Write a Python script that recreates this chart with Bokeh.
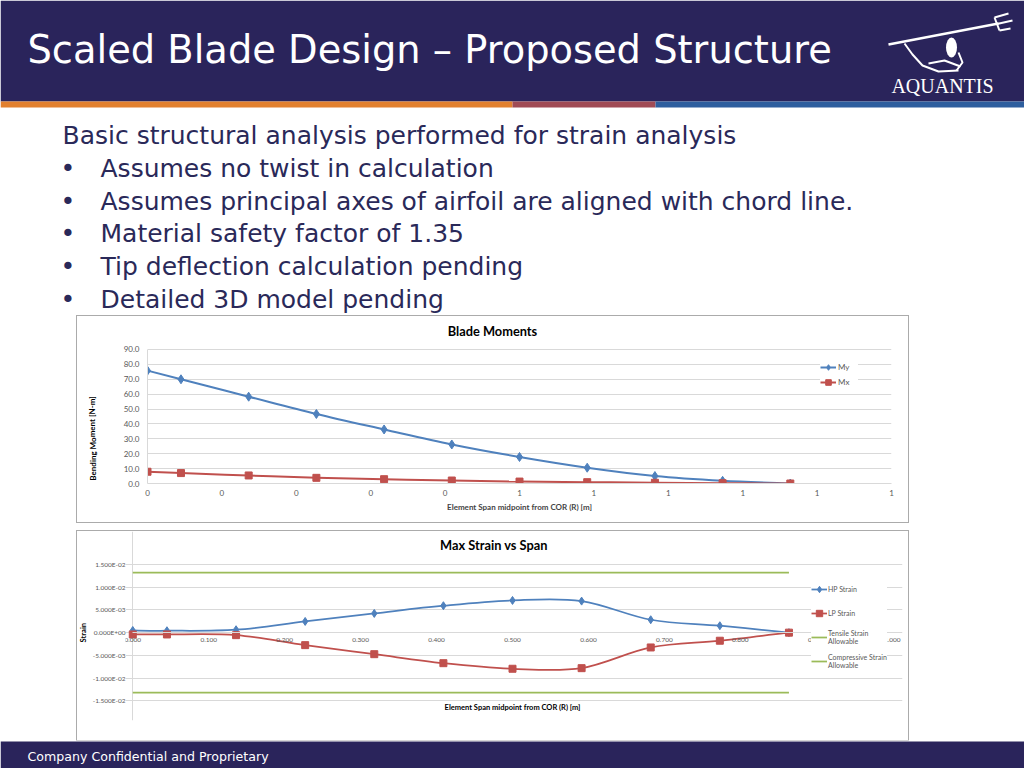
from bokeh.plotting import figure
from bokeh.layouts import column, row
from bokeh.models import Range1d, FixedTicker, Legend, LegendItem, Spacer
from bokeh.embed import file_html
from bokeh.resources import INLINE
from bokeh.core.properties import value

# ---------------- data ----------------
TITLE = "Scaled Blade Design \u2013 Proposed Structure"
INTRO = "Basic structural analysis performed for strain analysis"
BULLETS = [
    "Assumes no twist in calculation",
    "Assumes principal axes of airfoil are aligned with chord line.",
    "Material safety factor of 1.35",
    "Tip deflection calculation pending",
    "Detailed 3D model pending",
]
FOOTER = "Company Confidential and Proprietary"
LOGO = "AQUANTIS"

CHART1_TITLE = "Blade Moments"
CHART2_TITLE = "Max Strain vs Span"
X_TITLE = "Element Span midpoint from COR (R) [m]"
Y1_TITLE = "Bending Moment [N-m]"
Y2_TITLE = "Strain"

SPAN = [0.000, 0.045, 0.136, 0.227, 0.318, 0.409, 0.500, 0.591, 0.682, 0.773, 0.864]
MY = [75.8, 70.0, 58.3, 46.7, 36.3, 26.2, 17.8, 10.6, 5.0, 1.8, 0.0]
MX = [7.9, 7.0, 5.4, 3.8, 2.9, 2.0, 1.3, 0.9, 0.5, 0.2, 0.0]
HP = [4.8e-4, 4.2e-4, 6.4e-4, 2.47e-3, 4.23e-3, 5.93e-3, 7.09e-3, 6.94e-3, 2.84e-3, 1.52e-3, 0.0]
LP = [-4.0e-4, -4.0e-4, -5.5e-4, -2.75e-3, -4.74e-3, -6.72e-3, -7.95e-3, -7.82e-3, -3.26e-3, -1.78e-3, 0.0]
TENSILE = [0.0132, 0.0132, 0.0132, 0.0132, 0.0132, 0.0132, 0.0132, 0.0132, 0.0132, 0.0132, 0.0132]
COMPRESSIVE = [-0.0132, -0.0132, -0.0132, -0.0132, -0.0132, -0.0132, -0.0132, -0.0132, -0.0132, -0.0132, -0.0132]

X1_TICKS = [0.0, 0.1, 0.2, 0.3, 0.4, 0.5, 0.6, 0.7, 0.8, 0.9, 1.0]
X1_LABELS = ["0", "0", "0", "0", "0", "1", "1", "1", "1", "1", "1"]
Y1_TICKS = [0, 10, 20, 30, 40, 50, 60, 70, 80, 90]
Y1_LABELS = ["0.0", "10.0", "20.0", "30.0", "40.0", "50.0", "60.0", "70.0", "80.0", "90.0"]
X2_TICKS = [0.0, 0.1, 0.2, 0.3, 0.4, 0.5, 0.6, 0.7, 0.8, 0.9, 1.0]
X2_LABELS = ["0.000", "0.100", "0.200", "0.300", "0.400", "0.500", "0.600", "0.700", "0.800", "0.900", "1.000"]
Y2_TICKS = [-0.015, -0.01, -0.005, 0.0, 0.005, 0.01, 0.015]
Y2_LABELS = ["-1.500E-02", "-1.000E-02", "-5.000E-03", "0.000E+00", "5.000E-03", "1.000E-02", "1.500E-02"]

# ---------------- styles ----------------
NAVY = "#2A245B"
BODY = "#2A2959"
BLUE = "#4F81BD"
RED = "#C0504D"
GREEN = "#9BBB59"
GRID = "#D9D9D9"
TICK = "#595959"
FONT = "Lato"
SLIDE_FONT = "DejaVu Sans"
BOX = {"outline": "1px solid #ABABAB"}


def blank(w, h, x0, x1, y0, y1):
    # plain canvas in page pixel coordinates (y grows downward)
    p = figure(width=w, height=h, x_range=Range1d(x0, x1), y_range=Range1d(y1, y0),
               x_axis_type=None, y_axis_type=None, toolbar_location=None,
               output_backend="svg", min_border=0, outline_line_color=None,
               background_fill_color="white", border_fill_color="white")
    p.grid.visible = False
    return p


def smooth(p, xs, ys, color, width):
    # Bezier segments through the data points (Excel-style smoothed line)
    n = len(xs)
    d = dict(x0=[], y0=[], x1=[], y1=[], cx0=[], cy0=[], cx1=[], cy1=[])
    for i in range(n - 1):
        ip = max(i - 1, 0)
        i2 = min(i + 2, n - 1)
        d["x0"].append(xs[i]); d["y0"].append(ys[i])
        d["x1"].append(xs[i + 1]); d["y1"].append(ys[i + 1])
        d["cx0"].append(xs[i] + (xs[i + 1] - xs[ip]) / 6)
        d["cy0"].append(ys[i] + (ys[i + 1] - ys[ip]) / 6)
        d["cx1"].append(xs[i + 1] - (xs[i2] - xs[i]) / 6)
        d["cy1"].append(ys[i + 1] - (ys[i2] - ys[i]) / 6)
    return p.bezier(source=d, x0="x0", y0="y0", x1="x1", y1="y1", cx0="cx0", cy0="cy0",
                    cx1="cx1", cy1="cy1", line_color=color, line_width=width)


def style_axis(ax, size, standoff):
    ax.major_tick_line_color = None
    ax.minor_tick_line_color = None
    ax.major_tick_out = 0
    ax.major_tick_in = 0
    ax.minor_tick_out = 0
    ax.axis_line_color = GRID
    ax.major_label_text_font = FONT
    ax.major_label_text_font_size = size
    ax.major_label_text_color = TICK
    ax.major_label_standoff = standoff


def vlabel(w, h, x0, frame_top, frame_bottom, cx, cy, text, size):
    # narrow strip for a rotated axis title; the row aligns its frame with the chart's frame
    # (frame_top..frame_bottom in page pixels), so y is measured upward from frame_bottom
    p = figure(width=w, height=h, x_range=Range1d(x0, x0 + w),
               y_range=Range1d(0, frame_bottom - frame_top),
               x_axis_type=None, y_axis_type=None, toolbar_location=None,
               output_backend="svg", min_border=0, outline_line_color=None,
               background_fill_color="white", border_fill_color="white")
    p.grid.visible = False
    p.text(x=[cx], y=[frame_bottom - cy], text=[text], angle=1.5708, text_font=value(FONT),
           text_font_size=size, text_font_style="bold", text_color="black",
           text_align="center", text_baseline="middle")
    return p


# ---------------- header + body text (page 0..1024 x 0..316) ----------------
head = blank(1024, 316, 0, 1024, 0, 316)
head.quad(left=[0], right=[1024], top=[0], bottom=[101], fill_color=NAVY, line_color=None)
head.quad(left=[0, 512, 655], right=[512, 655, 1024], top=[101, 101, 101], bottom=[107, 107, 107],
          fill_color=["#E2802E", "#A04B55", "#2E5E9E"], line_color=None)
head.text(x=[27], y=[49], text=[TITLE], text_font=value(SLIDE_FONT), text_font_size="38.4px",
          text_color="white", text_baseline="middle")
# logo (trident + figure + word mark)
head.line(x=[888, 998], y=[44, 23], line_color="white", line_width=2.5)
head.multi_line(xs=[[994, 1008], [996.5, 1012], [999, 1010], [994, 999]],
                ys=[[17, 13], [23.5, 20], [30, 28], [17, 30]], line_color="white", line_width=2)
head.multi_line(xs=[[904, 912, 922, 938, 958], [928, 944, 960], [958, 962, 956]],
                ys=[[43, 54, 65, 71, 70], [63, 60, 66], [52, 62, 70]], line_color="white", line_width=2)
head.ellipse(x=[951], y=[47], width=11, height=20, fill_color="white", line_color=None)
head.text(x=[942], y=[85], text=[LOGO], text_font=value("Liberation Serif"), text_font_size="20px",
          text_color="white", text_align="center", text_baseline="middle")
# body text
head.text(x=[62], y=[135.4], text=[INTRO], text_font=value(SLIDE_FONT), text_font_size="25px",
          text_color=BODY, text_baseline="middle")
by = [168.2, 200.8, 233.4, 266.0, 298.6]
head.text(x=[60] * len(BULLETS), y=by, text=["\u2022"] * len(BULLETS), text_font=value(SLIDE_FONT),
          text_font_size="25px", text_color=BODY, text_baseline="middle")
head.text(x=[100] * len(BULLETS), y=by, text=BULLETS, text_font=value(SLIDE_FONT),
          text_font_size="25px", text_color=BODY, text_baseline="middle")

# ---------------- chart 1: Blade Moments (page 77..908 x 316..522) ----------------
ylab1 = vlabel(23, 206, 77, 316, 483, 92, 438, Y1_TITLE, "8px")

p1 = figure(width=808, height=206, x_range=Range1d(0, 1.0), y_range=Range1d(0, 112.164),
            toolbar_location=None, output_backend="svg", min_border_left=47, min_border_right=17,
            min_border_top=0, min_border_bottom=39, outline_line_color=None,
            background_fill_color="white", border_fill_color="white")
p1.xgrid.visible = False
p1.ygrid.grid_line_color = GRID
p1.ygrid.ticker = FixedTicker(ticks=Y1_TICKS)
p1.xaxis.ticker = FixedTicker(ticks=X1_TICKS)
p1.xaxis.major_label_overrides = dict(zip(X1_TICKS, X1_LABELS))
p1.yaxis.ticker = FixedTicker(ticks=Y1_TICKS)
p1.yaxis.major_label_overrides = dict(zip(Y1_TICKS, Y1_LABELS))
p1.yaxis.bounds = (0, 90)
style_axis(p1.xaxis, "8px", 6)
style_axis(p1.yaxis, "8px", 8)
p1.xaxis.axis_label = X_TITLE
p1.xaxis.axis_label_text_font = FONT
p1.xaxis.axis_label_text_font_size = "8px"
p1.xaxis.axis_label_text_font_style = "bold"
p1.xaxis.axis_label_standoff = 3

b1 = smooth(p1, SPAN, MY, BLUE, 2)
s1 = p1.scatter(SPAN, MY, marker="diamond", size=9, fill_color=BLUE, line_color=BLUE)
b2 = smooth(p1, SPAN, MX, RED, 2)
s2 = p1.scatter(SPAN, MX, marker="square", size=7, fill_color=RED, line_color=RED)
p1.text(x=[0.4637], y=[102.09], text=[CHART1_TITLE], text_font=value(FONT), text_font_size="12.8px",
        text_font_style="bold", text_color="black", text_align="center", text_baseline="middle")
leg1 = Legend(items=[LegendItem(label="My", renderers=[b1, s1]),
                     LegendItem(label="Mx", renderers=[b2, s2])],
              location=(673, 94), background_fill_color="white", background_fill_alpha=1,
              border_line_color=None, label_text_font=FONT, label_text_font_size="8px",
              label_text_color=TICK, glyph_width=16, glyph_height=14, label_height=14,
              spacing=1, padding=2, margin=0, label_standoff=2)
p1.add_layout(leg1)

chart1 = row(ylab1, p1, styles=BOX)

# ---------------- chart 2: Max Strain vs Span (page 77..908 x 531..740) ----------------
ylab2 = vlabel(12, 209, 77, 531, 720, 83, 632.2, Y2_TITLE, "7.5px")

p2 = figure(width=819, height=209, x_range=Range1d(-0.00957, 1.01351),
            y_range=Range1d(-0.019339, 0.022264),
            toolbar_location=None, output_backend="svg", min_border_left=33, min_border_right=6,
            min_border_top=0, min_border_bottom=20, outline_line_color=None,
            background_fill_color="white", border_fill_color="white")
p2.ygrid.grid_line_color = GRID
p2.ygrid.ticker = FixedTicker(ticks=Y2_TICKS)
p2.ygrid.bounds = (0, 1.0)
p2.xgrid.grid_line_color = GRID
p2.xgrid.ticker = FixedTicker(ticks=[0.0])
p2.xgrid.bounds = (-0.015, 0.015)
p2.xaxis.ticker = FixedTicker(ticks=X2_TICKS)
p2.xaxis.major_label_overrides = dict(zip(X2_TICKS, X2_LABELS))
p2.xaxis.fixed_location = 0
p2.xaxis.bounds = (0, 1.0)
p2.yaxis.ticker = FixedTicker(ticks=Y2_TICKS)
p2.yaxis.major_label_overrides = dict(zip(Y2_TICKS, Y2_LABELS))
style_axis(p2.xaxis, "6.5px", 5)
style_axis(p2.yaxis, "6.5px", 0)
p2.yaxis.axis_line_color = None

h1 = smooth(p2, SPAN, HP, BLUE, 1.75)
hs = p2.scatter(SPAN, HP, marker="diamond", size=8, fill_color=BLUE, line_color=BLUE)
l1 = smooth(p2, SPAN, LP, RED, 1.75)
ls = p2.scatter(SPAN, LP, marker="square", size=7, fill_color=RED, line_color=RED)
t1 = p2.line(SPAN, TENSILE, line_color=GREEN, line_width=1.75)
c1 = p2.line(SPAN, COMPRESSIVE, line_color=GREEN, line_width=1.75)
p2.text(x=[0.4755], y=[0.0194], text=[CHART2_TITLE], text_font=value(FONT), text_font_size="12.8px",
        text_font_style="bold", text_color="black", text_align="center", text_baseline="middle")
p2.text(x=[0.5], y=[-0.01654], text=[X_TITLE], text_font=value(FONT), text_font_size="7.5px",
        text_font_style="bold", text_color="black", text_align="center", text_baseline="middle")
leg2 = Legend(items=[LegendItem(label="HP Strain", renderers=[h1, hs]),
                     LegendItem(label="LP Strain", renderers=[l1, ls]),
                     LegendItem(label="Tensile Strain\nAllowable", renderers=[t1]),
                     LegendItem(label="Compressive Strain\nAllowable", renderers=[c1])],
              location=(686, 48), background_fill_color="white", background_fill_alpha=1,
              border_line_color=None, label_text_font=FONT, label_text_font_size="7px",
              label_text_color=TICK, glyph_width=16, glyph_height=22, label_height=22,
              spacing=2, padding=6, margin=0, label_standoff=1)
p2.add_layout(leg2)

chart2 = row(ylab2, p2, styles=BOX)

# ---------------- footer ----------------
foot = blank(1024, 28, 0, 1024, 740, 768)
foot.quad(left=[0], right=[1024], top=[741], bottom=[768], fill_color=NAVY, line_color=None)
foot.text(x=[27], y=[755.6], text=[FOOTER], text_font=value(SLIDE_FONT), text_font_size="12.6px",
          text_color="white", text_baseline="middle")

layout = column(
    head,
    row(Spacer(width=77, height=206), chart1, Spacer(width=116, height=206)),
    Spacer(width=1024, height=9),
    row(Spacer(width=77, height=209), chart2, Spacer(width=116, height=209)),
    foot,
)

open("out.html", "w").write(file_html(layout, INLINE))
